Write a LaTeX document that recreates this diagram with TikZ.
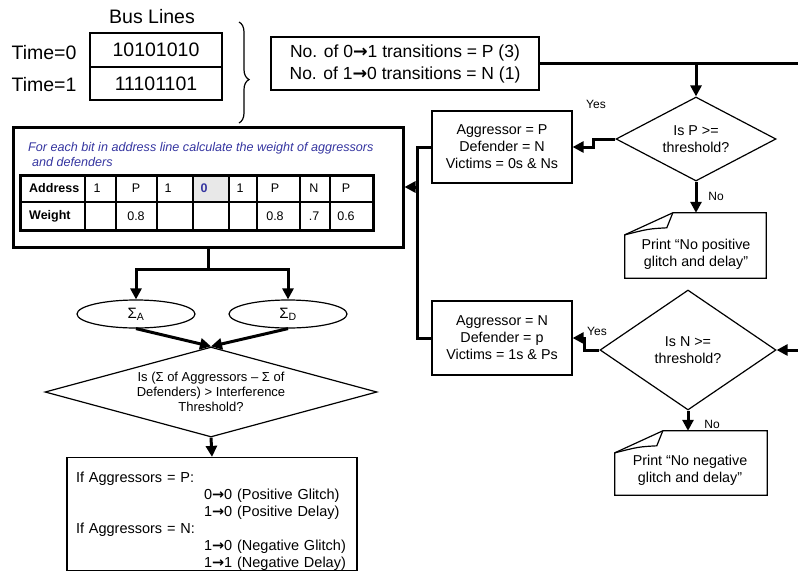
\documentclass[tikz,border=0pt]{standalone}
\usepackage{fontspec}
\setmainfont{Liberation Sans}
\newfontfamily\arrowfont{DejaVu Sans}
\usetikzlibrary{shapes.geometric,arrows.meta,decorations.pathreplacing,positioning}

\definecolor{noteblue}{HTML}{3535A0}
\definecolor{cellgray}{HTML}{E8E8E8}

\newcommand{\tr}{{\arrowfont\bfseries →}}
\newcommand{\foldbox}[1]{%
  \draw[box] ([xshift=48pt]#1.north west) -- (#1.north east) -- (#1.south east)
    -- (#1.south west) -- ([yshift=-22pt]#1.north west) -- cycle;
  \draw[box] ([xshift=48pt]#1.north west) .. controls ([xshift=45pt,yshift=-8pt]#1.north west)
    .. ([xshift=42pt,yshift=-15pt]#1.north west) .. controls ([xshift=24pt,yshift=-16pt]#1.north west)
    .. ([yshift=-22pt]#1.north west);}

\begin{document}
\begin{tikzpicture}[x=1pt,y=-1pt]
	\tikzset{
		box/.style={draw, line width=1.2pt, inner sep=0pt, align=center},
		flow/.style={line width=3pt, -{Triangle[length=11pt,width=11pt]}},
		link/.style={line width=3pt},
		big/.style={font=\fontsize{19.5}{22}\selectfont},
		body/.style={font=\fontsize{14.3}{17}\selectfont},
		cond/.style={box, diamond, body},
		tag/.style={font=\fontsize{12}{14}\selectfont},
		cell/.style={inner sep=0pt, font=\fontsize{12.5}{14}\selectfont}
	}
	\useasboundingbox (0,0) rectangle (798,571);

	\node[big] (buslabel) at (152,17) {Bus Lines};
	\node[big] (t0) at (44,53) {Time=0};
	\node[big] (t1) at (44,85) {Time=1};
	\node[box, big, minimum width=132pt, minimum height=34pt] (row0) at (156,50) {10101010};
	\node[box, big, minimum width=132pt, minimum height=33pt] (row1) at (156,83.5) {11101101};
	\draw[line width=1.2pt, decorate, decoration={brace, amplitude=10pt, aspect=0.57}] (239,22) -- (239,123);

	\node[box, font=\fontsize{17.5}{22}\selectfont, minimum width=268pt, minimum height=53pt] (trans) at (405,63.5)
		{No. of 0\tr1 transitions = P (3)\\No. of 1\tr0 transitions = N (1)};

	\node[box, line width=3pt, minimum width=390pt, minimum height=120pt] (calc) at (208,187) {};
	\node[anchor=west, inner sep=0pt, align=left, text=noteblue, font=\fontsize{12.6}{15.5}\selectfont\itshape] (note) at (28,154.5)
		{For each bit in address line calculate the weight of aggressors\\\hspace*{4pt}and defenders};

	\fill[cellgray] (193,175) rectangle (229,202);
	\draw[line width=2pt] (20,202) -- (373,202);
	\foreach \x in {85,116,157,193,229,257,300,330}
		\draw[line width=2pt] (\x,175) -- (\x,230);
	\draw[line width=3pt] (20,175) rectangle (373,230);
	\node[cell, anchor=west, font=\fontsize{12.5}{14}\selectfont\bfseries] (addr) at (29,188.5) {Address};
	\node[cell, anchor=west, font=\fontsize{12.5}{14}\selectfont\bfseries] (wt) at (29,216) {Weight};
	\foreach \x/\a/\w [count=\i] in {97/1/{}, 136/P/0.8, 168/1/{}, 204/{\textcolor{noteblue}{\bfseries 0}}/{},
			240/1/{}, 275/P/0.8, 314/N/.7, 346/P/0.6} {
		\node[cell] (a\i) at (\x,188.5) {\a};
		\node[cell] (w\i) at (\x,216) {\w};
	}

	\node[box, ellipse, minimum width=118pt, minimum height=28pt, font=\fontsize{15}{18}\selectfont] (sumA) at (136,314) {Σ\textsubscript{A}};
	\node[box, ellipse, minimum width=118pt, minimum height=28pt, font=\fontsize{15}{18}\selectfont] (sumD) at (288,314) {Σ\textsubscript{D}};
	\node[box, diamond, aspect=3.7, minimum width=332pt, minimum height=90pt, font=\fontsize{13}{14.7}\selectfont] (test) at (211,392)
		{Is (Σ of Aggressors – Σ of\\Defenders) > Interference\\Threshold?};
	\node[draw, line width=1.2pt, inner xsep=9pt, inner ysep=0pt, text width=272pt, align=left, font=\fontsize{14.5}{17}\selectfont] (result) at (212,514)
		{\rule{0pt}{25pt}If Aggressors = P:\\
		\hspace*{128pt}0\tr0 (Positive Glitch)\\
		\hspace*{128pt}1\tr0 (Positive Delay)\\
		If Aggressors = N:\\
		\hspace*{128pt}1\tr0 (Negative Glitch)\\
		\hspace*{128pt}1\tr1 (Negative Delay)};

	\node[cond, aspect=1.9, minimum width=160pt, minimum height=84pt] (ptest) at (696,139) {Is P >=\\threshold?};
	\node[box, body, minimum width=140pt, minimum height=72pt] (aggp) at (502,147) {Aggressor = P\\Defender = N\\Victims = 0s \& Ns};
	\node[inner sep=0pt, minimum width=141pt, minimum height=65pt] (printp) at (695.5,245.5) {};
	\node[body, align=center] (printptxt) at (696,254) {Print “No positive\\glitch and delay”};
	\foldbox{printp}

	\node[cond, aspect=1.47, minimum width=176pt, minimum height=120pt] (ntest) at (688,350) {Is N >=\\threshold?};
	\node[box, body, minimum width=140pt, minimum height=74pt] (aggn) at (502,338) {Aggressor = N\\Defender = p\\Victims = 1s \& Ps};
	\node[inner sep=0pt, minimum width=152pt, minimum height=64pt] (printn) at (691,463) {};
	\node[body, align=center] (printntxt) at (690,470) {Print “No negative\\glitch and delay”};
	\foldbox{printn}

	\node[tag] (yesp) at (596,104) {Yes};
	\node[tag] (nop) at (716,196) {No};
	\node[tag] (yesn) at (597,331) {Yes};
	\node[tag] (non) at (712,424) {No};

	\draw[flow] (trans.east) -- (802,63.5) |- (ntest.east);
	\draw[flow] (ptest.north |- trans.east) -- (ptest.north);
	\draw[flow] (ptest.west) -- ++(-22,0) |- (aggp.east);
	\draw[flow] (ptest.south) -- (ptest.south |- printp.north);
	\draw[flow] (ntest.west) -- ++(-15,0) |- (aggn.east);
	\draw[flow] (ntest.south) -- (ntest.south |- printn.north);
	\coordinate (merge) at ([xshift=-14pt]aggp.west);
	\draw[link] (aggp.west) -- (merge) |- (aggn.west);
	\draw[flow] (merge |- calc.east) -- (calc.east);
	\draw[link] (calc.south) -- ++(0,21) coordinate (split);
	\draw[flow] (split) -| (sumA.north);
	\draw[flow] (split) -| (sumD.north);
	\draw[flow] (sumA.south) -- (test.north);
	\draw[flow] (sumD.south) -- (test.north);
	\draw[flow] (test.south) -- (result.north);
\end{tikzpicture}
\end{document}
